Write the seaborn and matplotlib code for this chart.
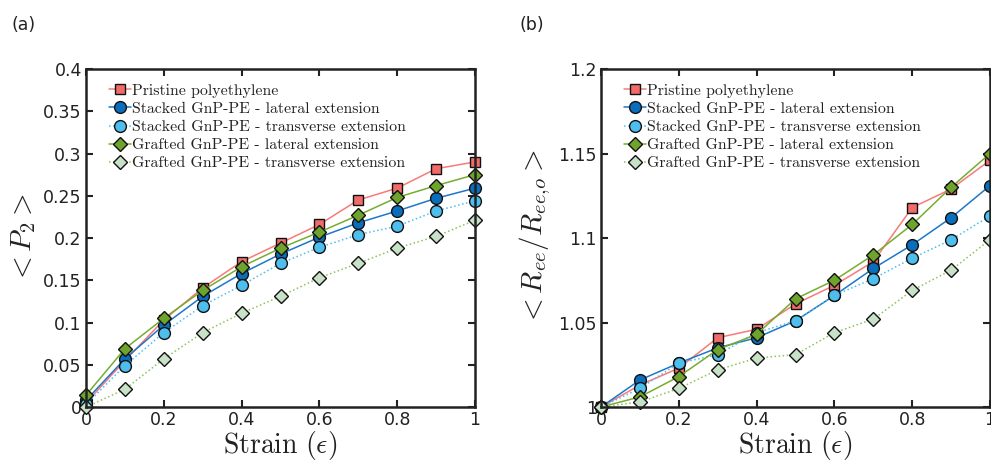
import matplotlib
matplotlib.use("Agg")
import matplotlib.pyplot as plt
import seaborn as sns
import numpy as np

sns.set_theme(style="white")
plt.rcParams["font.family"] = ["DejaVu Sans"]
plt.rcParams["mathtext.fontset"] = "cm"

strain = [0.0, 0.1, 0.2, 0.3, 0.4, 0.5, 0.6, 0.7, 0.8, 0.9, 1.0]

series_names = [
    "Pristine polyethylene",
    "Stacked GnP-PE - lateral extension",
    "Stacked GnP-PE - transverse extension",
    "Grafted GnP-PE - lateral extension",
    "Grafted GnP-PE - transverse extension",
]

# Orientation order parameter <P2>
p2_pristine = [0.005, 0.055, 0.103, 0.141, 0.172, 0.194, 0.216, 0.245, 0.259, 0.282, 0.290]
p2_stacked_lat = [0.008, 0.057, 0.097, 0.131, 0.158, 0.181, 0.201, 0.218, 0.232, 0.247, 0.259]
p2_stacked_trans = [0.003, 0.049, 0.088, 0.120, 0.144, 0.170, 0.189, 0.204, 0.214, 0.232, 0.244]
p2_grafted_lat = [0.014, 0.069, 0.105, 0.138, 0.166, 0.188, 0.207, 0.227, 0.248, 0.262, 0.275]
p2_grafted_trans = [0.000, 0.021, 0.057, 0.088, 0.111, 0.131, 0.153, 0.170, 0.188, 0.202, 0.221]

# Normalised end-to-end distance <Ree/Ree,o>
ree_pristine = [1.000, 1.013, 1.023, 1.041, 1.046, 1.061, 1.072, 1.086, 1.118, 1.129, 1.146]
ree_stacked_lat = [1.000, 1.016, 1.026, 1.035, 1.041, 1.051, 1.066, 1.082, 1.096, 1.112, 1.131]
ree_stacked_trans = [1.000, 1.011, 1.026, 1.031, 1.044, 1.051, 1.066, 1.076, 1.088, 1.099, 1.113]
ree_grafted_lat = [1.000, 1.006, 1.018, 1.034, 1.043, 1.064, 1.075, 1.090, 1.108, 1.130, 1.150]
ree_grafted_trans = [1.000, 1.003, 1.011, 1.022, 1.029, 1.031, 1.044, 1.052, 1.069, 1.081, 1.099]

x_ticks = [0, 0.2, 0.4, 0.6, 0.8, 1]
x_ticklabels = ["0", "0.2", "0.4", "0.6", "0.8", "1"]
p2_ticks = [0, 0.05, 0.1, 0.15, 0.2, 0.25, 0.3, 0.35, 0.4]
p2_ticklabels = ["0", "0.05", "0.1", "0.15", "0.2", "0.25", "0.3", "0.35", "0.4"]
ree_ticks = [1.0, 1.05, 1.1, 1.15, 1.2]
ree_ticklabels = ["1", "1.05", "1.1", "1.15", "1.2"]

styles = [
    dict(marker="s", mfc="#F26B6B", color="#F87A7A", ls="-", ms=7.5),
    dict(marker="o", mfc="#0A6EBD", color="#1F77C8", ls="-", ms=8.5),
    dict(marker="o", mfc="#4DBEEE", color="#4DBEEE", ls=":", ms=8.5),
    dict(marker="D", mfc="#6FA42C", color="#77AC30", ls="-", ms=7.5),
    dict(marker="D", mfc="#C8E2C8", color="#8CC45A", ls=":", ms=7.5),
]

fig = plt.figure(figsize=(9.91, 4.61), dpi=100)
ax_a = fig.add_axes([0.0868, 0.1171, 0.3925, 0.7332])
ax_b = fig.add_axes([0.6065, 0.1171, 0.3925, 0.7332])


def draw(ax, values):
    for name, y, st in zip(series_names, values, styles):
        sns.lineplot(
            x=strain, y=y, ax=ax, label=name,
            color=st["color"], linestyle=st["ls"], linewidth=1.1,
            marker=st["marker"], markersize=st["ms"],
            markerfacecolor=st["mfc"], markeredgecolor="#111111",
            markeredgewidth=1.0, clip_on=False,
        )
    for side in ax.spines.values():
        side.set_linewidth(1.8)
        side.set_color("#222222")
        side.set_visible(True)
    ax.set_xlim(0, 1)
    ax.set_xticks(x_ticks)
    ax.set_xticklabels(x_ticklabels)
    ax.tick_params(axis="both", which="both", direction="in", length=5, width=1.5,
                   top=True, right=True, bottom=True, left=True,
                   labelsize=12.5, colors="#222222", pad=3)
    ax.set_xlabel(r"$\mathrm{Strain}\ (\epsilon)$", fontsize=20, color="#222222", labelpad=0)
    leg = ax.legend(loc="upper left", bbox_to_anchor=(0.035, 0.985), frameon=False,
                    prop={"family": "cmr10", "size": 11.4}, handlelength=1.4,
                    handletextpad=0.05, labelspacing=0.26, borderaxespad=0.2)
    for t in leg.get_texts():
        t.set_color("#222222")


draw(ax_a, [p2_pristine, p2_stacked_lat, p2_stacked_trans, p2_grafted_lat, p2_grafted_trans])
ax_a.set_ylim(0, 0.4)
ax_a.set_yticks(p2_ticks)
ax_a.set_yticklabels(p2_ticklabels)
ax_a.set_ylabel(r"$<P_2>$", fontsize=21, color="#222222", labelpad=4)

draw(ax_b, [ree_pristine, ree_stacked_lat, ree_stacked_trans, ree_grafted_lat, ree_grafted_trans])
ax_b.set_ylim(1.0, 1.2)
ax_b.set_yticks(ree_ticks)
ax_b.set_yticklabels(ree_ticklabels)
ax_b.set_ylabel(r"$<R_{ee}/R_{ee,\!o}>$", fontsize=21, color="#222222", labelpad=4)

fig.text(0.012, 0.945, "(a)", fontsize=12.5, color="#222222", va="center")
fig.text(0.524, 0.945, "(b)", fontsize=12.5, color="#222222", va="center")

fig.savefig("out.png", dpi=100, facecolor="white")
